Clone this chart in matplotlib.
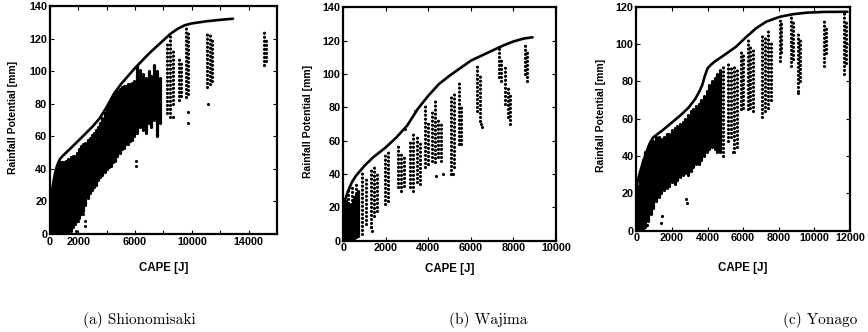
import numpy as np
import matplotlib
matplotlib.use("Agg")
import matplotlib.pyplot as plt

# ---- (a) Shionomisaki ----
a_env_x = [0, 100, 200, 350, 500, 700, 900, 1500, 2200, 3000, 3500, 4000, 4500, 5000, 5500, 6000,
           6500, 7000, 7500, 8000, 8500, 9000, 9500, 10000, 11000, 12000, 12900]
a_env_y = [18, 24, 30, 37, 42, 46, 48, 53, 59, 66, 71, 78, 86, 92, 97, 102,
           106.5, 111, 115, 119, 123, 126, 128.2, 129.3, 130.6, 131.5, 132.2]

a_dense_x = [50, 150, 250, 350, 450, 550, 700, 850, 1000, 1150, 1300, 1450, 1600, 1750, 1900,
             2050, 2200, 2350, 2500, 2650, 2800, 2950, 3100, 3250, 3400, 3550, 3700, 3850, 4000,
             4150, 4300, 4450, 4600, 4750, 4900, 5050, 5200, 5350, 5500, 5650, 5800, 5950,
             6150, 6350, 6550, 6750, 6950, 7150, 7350, 7550, 7750]
a_dense_lo = [0, 0, 0, 0, 0, 0, 0, 0, 0, 0, 0, 2, 4, 6, 8,
              10, 12, 14, 18, 22, 25, 27, 29, 30, 33, 35, 36, 38, 40,
              41, 42, 44, 45, 48, 50, 52, 53, 55, 55, 57, 58, 60,
              62, 66, 64, 62, 68, 66, 70, 60, 68]
a_dense_hi = [20, 27, 33, 37, 40, 42, 44, 44, 44, 45, 46, 47, 48, 48, 50,
              52, 54, 55, 56, 58, 59, 61, 62, 64, 66, 68, 71, 74, 77,
              80, 83, 85, 87, 88, 89, 90, 91, 91, 92, 92, 93, 94,
              103, 101, 98, 96, 100, 97, 104, 100, 96]

a_col_x = [8250, 8450, 8650, 9100, 9250, 9600, 9750, 11050, 11250, 11450, 15050, 15200]
a_col_lo = [74, 72, 80, 82, 85, 84, 86, 90, 92, 94, 104, 106]
a_col_hi = [118, 122, 114, 108, 106, 127, 124, 123, 124, 121, 125, 120]

a_out_x = [1400, 1800, 2450, 2500, 2000, 2350, 6050, 6050, 9700, 9750, 11150, 8700]
a_out_y = [3, 2, 8, 5, 8, 12, 42, 45, 75, 68, 80, 72]

# ---- (b) Wajima ----
b_env_x = [0, 100, 200, 400, 600, 800, 1000, 1400, 2000, 2500, 3000, 3500, 4000, 4500, 5000,
           5500, 6000, 6500, 7000, 7500, 8000, 8500, 8900]
b_env_y = [18, 25, 29, 35, 39, 42, 45, 50, 56, 62, 69, 79, 87, 94, 99,
           103.5, 108, 111, 114, 117, 119.5, 121.3, 122]

b_dense_x = [40, 120, 200, 280, 360, 440, 520, 600, 700]
b_dense_lo = [0, 0, 0, 0, 0, 0, 0, 2, 3]
b_dense_hi = [22, 24, 22, 20, 22, 24, 26, 28, 30]

b_col_x = [40, 200, 400, 600, 900, 1050, 1300, 1450, 1600, 1950, 2100, 2550, 2700, 2850, 3150, 3300,
           3450, 3600, 3850, 4000, 4150, 4300, 4450, 4600, 5050, 5200, 5450, 5550, 6300, 6450,
           7300, 7400, 7600, 7750, 7850, 8550, 8650]
b_col_lo = [20, 20, 22, 24, 4, 10, 8, 15, 18, 22, 24, 32, 30, 33, 32, 30,
            35, 34, 44, 46, 48, 47, 50, 48, 40, 44, 58, 58, 78, 72,
            98, 96, 82, 74, 70, 100, 96]
b_col_hi = [26, 32, 34, 36, 42, 38, 44, 46, 42, 52, 54, 58, 54, 52, 60, 64,
            62, 60, 82, 72, 78, 84, 74, 70, 86, 90, 96, 82, 106, 100,
            116, 110, 104, 92, 88, 118, 114]

b_out_x = [1350, 1300, 2890, 3360, 4375, 4690, 5160, 6500, 6480]
b_out_y = [6, 8, 67, 78, 39, 40, 40, 68, 70]

# ---- (c) Yonago ----
c_env_x = [0, 60, 200, 380, 560, 760, 950, 1500, 2000, 2500, 2940, 3300, 3510, 3700, 3850, 4000,
           4200, 4400, 5000, 5600, 6200, 6730, 7300, 8060, 8800, 9570, 10500, 11850]
c_env_y = [20, 26, 31, 37, 42, 47, 50, 54, 58, 62, 66, 70.5, 74, 78, 83, 87,
           89, 90.6, 94.5, 98.6, 104, 108.5, 112, 114.6, 116, 116.8, 117.2, 117.3]

c_dense_x = [50, 200, 350, 500, 650, 800, 950, 1100, 1250, 1400, 1550, 1700, 1850, 2000, 2150,
             2300, 2450, 2600, 2750, 2900, 3050, 3200, 3350, 3500, 3650, 3800, 3950, 4100, 4250,
             4400, 4550, 4700]
c_dense_lo = [0, 0, 0, 2, 5, 9, 12, 16, 18, 20, 22, 23, 24, 26, 25, 27, 29, 30, 31, 30,
              32, 34, 36, 36, 38, 40, 42, 44, 45, 44, 42, 42]
c_dense_hi = [24, 32, 38, 42, 45, 47, 48, 50, 50, 49, 50, 52, 52, 54, 55, 56, 57, 58, 60, 62,
              64, 65, 67, 68, 70, 72, 75, 78, 80, 82, 84, 86]

c_col_x = [4850, 5150, 5300, 5500, 5650, 5850, 6000, 6250, 6400, 6550, 7050, 7200, 7400, 7550,
           8050, 8150, 8700, 8800, 9100, 9200, 10550, 10650, 11650, 11750]
c_col_lo = [40, 48, 50, 42, 45, 65, 66, 65, 66, 64, 61, 64, 66, 70, 91, 96, 88, 92, 75, 80, 88, 95, 84, 90]
c_col_hi = [88, 90, 88, 89, 86, 96, 94, 104, 100, 98, 106, 104, 107, 102, 114, 112, 116, 113, 106, 104, 113, 110, 117, 112]

c_out_x = [1400, 1450, 2850, 2800, 600, 5450, 9100]
c_out_y = [4, 8, 15, 17, 3, 42, 74]

titles = ["(a) Shionomisaki", "(b) Wajima", "(c) Yonago"]

panels = [
    dict(rect=[0.0576, 0.2952, 0.2615, 0.6867], xlim=16000, ylim=140,
         xt=np.arange(0, 16001, 2000), xl=["0", "2000", "", "6000", "", "10000", "", "14000", ""],
         env=(a_env_x, a_env_y), dense=(a_dense_x, a_dense_lo, a_dense_hi),
         col=(a_col_x, a_col_lo, a_col_hi), out=(a_out_x, a_out_y),
         ylab=(-0.163, 0.51), xlab=(0.5, -0.149), tx=0.161),
    dict(rect=[0.3955, 0.275, 0.245, 0.703], xlim=10000, ylim=140,
         xt=np.arange(0, 10001, 2000), xl=["0", "2000", "4000", "6000", "8000", "10000"],
         env=(b_env_x, b_env_y), dense=(b_dense_x, b_dense_lo, b_dense_hi),
         col=(b_col_x, b_col_lo, b_col_hi), out=(b_out_x, b_out_y),
         ylab=(-0.165, 0.51), xlab=(0.5, -0.121), tx=0.562),
    dict(rect=[0.7331, 0.3051, 0.2462, 0.6747], xlim=12000, ylim=120,
         xt=np.arange(0, 12001, 2000), xl=["0", "2000", "4000", "6000", "8000", "10000", "12000"],
         env=(c_env_x, c_env_y), dense=(c_dense_x, c_dense_lo, c_dense_hi),
         col=(c_col_x, c_col_lo, c_col_hi), out=(c_out_x, c_out_y),
         ylab=(-0.164, 0.515), xlab=(0.5, -0.167), tx=0.945),
]

fig = plt.figure(figsize=(8.68, 3.32), dpi=100)
tickfont = dict(family="Liberation Sans", weight="bold", size=7.8)

for p, title in zip(panels, titles):
    ax = fig.add_axes(p["rect"])
    x, lo, hi = p["dense"]
    vl = ax.vlines(x, lo, hi, color="black", linewidth=2.3)
    vl.set_capstyle("round")
    x, lo, hi = p["col"]
    vl = ax.vlines(x, lo, hi, color="black", linewidth=2.3, linestyles=[(0, (0.01, 1.25))])
    vl.set_capstyle("round")
    ax.scatter(p["out"][0], p["out"][1], s=5, color="black", linewidths=0)
    ax.plot(p["env"][0], p["env"][1], color="black", linewidth=1.9,
            solid_capstyle="round", solid_joinstyle="round")

    ax.set_xlim(0, p["xlim"])
    ax.set_ylim(0, p["ylim"])
    ax.set_xticks(p["xt"])
    ax.set_xticklabels(p["xl"], fontdict=tickfont)
    yt = np.arange(0, p["ylim"] + 1, 20)
    ax.set_yticks(yt)
    ax.set_yticklabels([str(v) for v in yt], fontdict=tickfont)
    ax.tick_params(direction="in", top=True, right=True, length=3, width=0.8, pad=2)
    for s in ax.spines.values():
        s.set_linewidth(1.6)

    ax.text(p["ylab"][0], p["ylab"][1], "Rainfall Potential [mm]", transform=ax.transAxes,
            rotation=90, ha="center", va="center", family="Liberation Sans", size=7.5,
            weight="bold")
    ax.text(p["xlab"][0], p["xlab"][1], "CAPE [J]", transform=ax.transAxes,
            ha="center", va="center", family="Liberation Sans", size=8.3, weight="bold")
    fig.text(p["tx"], 0.036, title, ha="center", va="center", family="cmr10", size=11)

fig.savefig("out.png", dpi=100)
